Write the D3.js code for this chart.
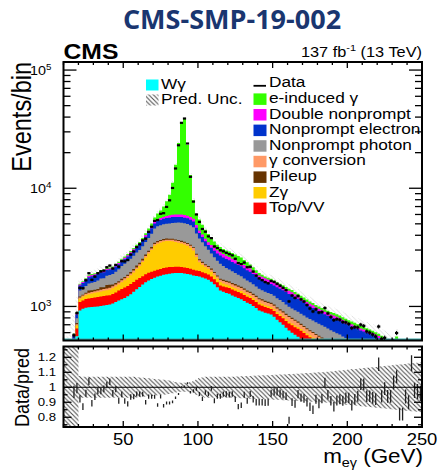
<!DOCTYPE html>
<html>
<head>
<meta charset="utf-8">
<script src="https://cdn.jsdelivr.net/npm/d3@7"></script>
<style>
  body { margin: 0; background: #fff; }
  svg { display: block; font-family: "Liberation Sans", Arial, Helvetica, sans-serif; }
</style>
</head>
<body>
<svg id="chart" width="438" height="470"></svg>
<script>
// ---- binning: m_eγ from 10 to 250 GeV in 2 GeV bins ----
const binLow = 10;
const binWidth = 2;
const nBins = 120;

// ---- expected events per bin, stacked bottom to top ----
const wgamma = [200,240,300,380,560,925,955,975,985,990,
  995,1000,1010,1020,1030,1040,1060,1090,1124,1150,
  1180,1220,1270,1330,1400,1460,1530,1600,1660,1710,
  1750,1790,1820,1850,1875,1893,1905,1915,1920,1915,
  1900,1880,1860,1830,1810,1795,1760,1720,1680,1620,
  1540,1450,1366,1330,1300,1281,1240,1210,1180,1150,
  1110,1075,1050,1010,970,925,905,885,870,855,
  820,770,736,700,660,626,600,575,555,530,
  505,480,460,440,420,405,390,375,360,345,
  335,325,315,300,290,280,270,260,250,240,
  232,224,216,208,200,192,185,178,171,165,
  160,155,150,146,142,138,135,132,130,128];
const topVV = [30,38,45,60,90,163,170,180,185,190,
  195,200,205,205,205,205,215,225,240,255,
  265,270,275,280,280,278,275,270,265,260,
  255,255,258,260,260,260,255,250,245,240,
  235,230,225,215,205,195,190,185,180,170,
  160,150,140,145,150,150,150,150,148,145,
  140,135,130,125,120,115,110,105,100,98,
  96,95,94,93,92,92,92,92,92,92,
  92,91,90,90,88,87,85,84,82,80,
  78,76,74,72,70,68,66,64,62,60,
  58,56,54,52,50,49,48,47,46,45,
  44,43,42,41,40,39,38,37,36,35];
const zgamma = [8,12,15,20,40,74,80,90,100,108,
  115,120,125,130,135,140,150,160,171,200,
  220,250,290,330,390,460,570,720,880,1030,
  1280,1350,1400,1430,1440,1422,1400,1350,1300,1250,
  1200,1150,1050,930,600,380,300,250,220,180,
  140,120,100,90,80,75,70,65,60,58,
  55,50,48,45,42,40,38,35,33,31,
  30,29,28,27,26,25,24,23,22,21,
  20,19,18,17,16,15,15,14,14,13,
  13,12,12,11,11,10,10,10,9,9,
  9,8,8,8,8,7,7,7,7,6,
  6,6,6,6,5,5,5,5,5,5];
const conversion = [4,6,8,10,18,28,30,33,36,40,
  42,44,46,48,50,52,55,58,60,62,
  64,66,68,70,70,72,75,80,85,90,
  92,94,95,95,95,95,98,100,105,110,
  115,120,130,140,120,90,85,80,78,76,
  75,74,73,75,78,80,80,80,80,78,
  76,74,72,70,70,68,68,67,66,66,
  66,66,67,68,70,70,68,65,60,55,
  52,50,50,50,50,48,46,44,42,40,
  38,36,34,32,30,28,26,24,22,20,
  19,18,17,16,15,14,13,12,11,10,
  10,9,9,8,8,7,7,6,6,6];
const pileup = [2,4,6,8,15,25,20,30,60,40,
  35,40,70,50,100,90,55,45,40,50,
  45,50,55,60,75,70,80,75,65,90,
  80,85,75,80,85,75,80,70,75,80,
  70,65,60,55,50,45,50,45,40,45,
  40,37,37,40,38,40,42,40,38,36,
  34,32,30,30,28,27,27,26,25,25,
  24,23,22,21,20,19,18,17,16,15,
  14,13,12,12,11,10,10,9,9,8,
  8,7,7,7,6,6,6,5,5,5,
  5,4,4,4,4,4,3,3,3,3,
  3,3,3,3,3,2,2,2,2,2];
const npPhoton = [15,22,30,45,70,146,160,180,200,220,
  230,250,265,280,300,320,350,390,430,480,
  520,550,580,610,640,670,700,760,840,950,
  1100,1200,1220,1240,1260,1275,1350,1420,1480,1520,
  1540,1550,1540,1500,1350,1250,1100,950,820,720,
  650,600,583,520,470,430,400,370,345,330,
  310,290,275,260,245,235,225,215,205,200,
  195,190,185,180,170,160,160,158,156,155,
  155,154,153,152,151,150,148,146,144,142,
  140,138,136,135,134,133,132,131,130,128,
  126,123,120,117,114,110,107,104,100,97,
  94,91,88,85,82,80,78,76,74,72];
const npElectron = [15,22,35,45,60,140,160,180,200,215,
  220,225,225,215,210,205,205,210,215,220,
  225,235,250,270,290,310,340,380,420,450,
  470,500,530,560,590,620,620,610,600,590,
  580,570,560,550,500,430,380,330,300,320,
  350,380,400,400,400,398,396,395,394,390,
  380,370,360,340,320,305,295,285,280,275,
  275,278,280,282,284,284,280,270,260,250,
  240,230,220,210,200,195,190,185,182,180,
  178,176,175,174,172,170,168,166,165,165,
  165,166,168,170,168,165,160,155,150,145,
  140,135,130,125,120,115,110,105,100,95];
const doubleNp = [4,6,10,12,20,34,36,38,40,42,
  40,42,44,45,45,45,48,52,56,62,
  68,75,82,90,98,105,115,130,145,160,
  170,180,190,200,230,260,270,280,285,290,
  290,290,290,290,260,200,190,185,180,180,
  180,180,180,175,170,160,155,150,145,145,
  140,135,130,125,120,115,112,110,108,106,
  100,95,90,85,82,80,75,70,65,60,
  58,55,52,50,48,46,45,45,46,48,
  50,48,45,40,35,30,28,26,25,24,
  23,22,21,20,20,20,19,19,18,18,
  18,70,18,17,16,16,15,15,14,14];
const eInduced = [2,4,6,8,12,20,25,28,30,35,
  35,38,40,40,40,40,42,45,50,55,
  60,65,70,75,80,88,105,140,200,300,
  450,650,900,1300,1930,2930,5170,9810,18180,29700,
  32740,17420,7210,2390,1170,1050,850,700,600,500,
  400,330,300,290,290,300,300,290,280,260,
  230,200,170,140,110,90,75,65,58,55,
  55,55,55,56,57,58,58,57,56,55,
  52,50,48,46,44,42,40,40,40,40,
  40,40,40,40,40,40,40,40,38,36,
  34,32,30,28,26,25,24,23,22,21,
  12,45,11,10,10,9,9,8,8,8];

// ---- observed events per bin (null: no entry) ----
const data = [null,null,null,570,880,1434,1425,1665,1909,1679,
  1787,1910,1979,2011,2147,2216,2093,2245,2169,2415,
  2406,2472,2749,2919,3174,3355,3619,3740,4273,4722,
  5291,5384,6079,6152,6950,7903,10055,14699,23101,35766,
  38902,23903,12498,7712,6004,5190,4522,4289,3914,3784,
  3217,3122,2988,2927,2842,2768,2706,2530,2326,2281,
  2351,2149,2163,1973,1823,1728,1670,1609,1571,1643,
  1611,1553,1495,1436,1373,1103,1238,1181,1224,1147,
  1099,1028,960,907,946,888,896,970,873,815,
  766,781,771,738,733,711,656,668,664,701,
  684,614,600,579,557,676,532,543,496,479,
  502,596,375,362,400,370,463,378,364,350];

// ---- relative uncertainty of the prediction per bin ----
const predUnc = [0.6,0.6,0.6,0.5,0.35,0.075,0.07,0.07,0.07,0.07,
  0.07,0.07,0.07,0.07,0.07,0.07,0.07,0.07,0.07,0.07,
  0.07,0.07,0.07,0.07,0.068,0.066,0.064,0.062,0.06,0.058,
  0.056,0.054,0.052,0.05,0.048,0.045,0.04,0.035,0.03,0.03,
  0.03,0.03,0.035,0.04,0.05,0.06,0.065,0.07,0.07,0.07,
  0.07,0.07,0.07,0.07,0.07,0.07,0.07,0.072,0.072,0.074,
  0.074,0.075,0.076,0.077,0.078,0.079,0.08,0.08,0.08,0.082,
  0.083,0.084,0.085,0.086,0.087,0.088,0.089,0.09,0.09,0.092,
  0.094,0.095,0.096,0.097,0.098,0.1,0.1,0.102,0.104,0.106,
  0.108,0.11,0.112,0.114,0.116,0.118,0.12,0.122,0.124,0.126,
  0.128,0.13,0.132,0.134,0.136,0.138,0.14,0.142,0.144,0.146,
  0.148,0.15,0.152,0.154,0.156,0.158,0.16,0.162,0.164,0.166];

// ---- axis tick values ----
const xMajorTicks = [50, 100, 150, 200, 250];
const yMainDecades = [1e3, 1e4, 1e5];
const yRatioTicks = [0.8, 0.9, 1.0, 1.1, 1.2];
const yRatioTickLabels = ["0.8", "0.9", "1", "1.1", "1.2"];

// stack order (bottom first)
const stack = [
  { key: "Wγ", vals: wgamma, color: "#00ffff" },
  { key: "Top/VV", vals: topVV, color: "#ff0000" },
  { key: "Zγ", vals: zgamma, color: "#ffcc00" },
  { key: "γ conversion", vals: conversion, color: "#ff9966" },
  { key: "Pileup", vals: pileup, color: "#663300" },
  { key: "Nonprompt photon", vals: npPhoton, color: "#999999" },
  { key: "Nonprompt electron", vals: npElectron, color: "#0033cc" },
  { key: "Double nonprompt", vals: doubleNp, color: "#ff00ff" },
  { key: "e-induced γ", vals: eInduced, color: "#33ff00" }
];
// right legend column, top to bottom
const legendOrder = ["Data", "e-induced γ", "Double nonprompt", "Nonprompt electron",
  "Nonprompt photon", "γ conversion", "Pileup", "Zγ", "Top/VV"];

// ---- geometry ----
const SX = 1.15;            // horizontal text stretch of the plot style
const X0 = 63.5, X1 = 422;
const MT = 62, MB = 340.5;  // main pad
const RT = 346.5, RB = 427; // ratio pad

const svg = d3.select("#chart");
const x = d3.scaleLinear().domain([10, 250]).range([X0, X1]);
const y = d3.scaleLog().domain([515, 117000]).range([MB, MT]);
const yr = d3.scaleLinear().domain([0.735, 1.272]).range([RB, RT]);

const edges = d3.range(nBins).map(i => binLow + i * binWidth);
const centers = edges.map(e => e + binWidth / 2);

// cumulative stack tops
const cumulative = [];
let running = new Array(nBins).fill(0);
stack.forEach(s => {
  running = running.map((v, i) => v + s.vals[i]);
  cumulative.push(running.slice());
});
const pred = running;

function stepPoints(lo, hi) {
  const pts = [];
  for (let i = 0; i < nBins; i++) {
    pts.push({ a: edges[i], lo: lo[i], hi: hi[i] });
    pts.push({ a: edges[i] + binWidth, lo: lo[i], hi: hi[i] });
  }
  return pts;
}

// ---- defs: clips and hatch ----
const defs = svg.append("defs");
defs.append("clipPath").attr("id", "clipMain")
  .append("rect").attr("x", X0).attr("y", MT).attr("width", X1 - X0).attr("height", MB - MT);
defs.append("clipPath").attr("id", "clipRatio")
  .append("rect").attr("x", X0).attr("y", RT).attr("width", X1 - X0).attr("height", RB - RT);
function hatchPattern(id, color, width) {
  const p = defs.append("pattern").attr("id", id)
    .attr("patternUnits", "userSpaceOnUse").attr("width", 4.5).attr("height", 4.5);
  p.append("path").attr("d", "M-1,-1 L5.5,5.5 M-1,3.5 L1,5.5 M3.5,-1 L5.5,1")
    .attr("stroke", color).attr("stroke-width", width).attr("fill", "none");
}
hatchPattern("hatch", "#4a4a4a", 1.05);
hatchPattern("hatchLight", "#777", 0.7);

// ---- text helper with the stretched plot font ----
function addText(parent, tx, ty, size, anchor, opts = {}) {
  const sx = opts.sx === undefined ? SX : opts.sx;
  const t = parent.append("text")
    .attr("transform", `translate(${tx},${ty}) scale(${sx},1)` + (opts.rot ? " rotate(-90)" : ""))
    .attr("font-size", size)
    .attr("text-anchor", anchor || "start")
    .attr("fill", opts.fill || "#000");
  if (opts.bold) t.attr("font-weight", "bold");
  if (opts.family) t.attr("font-family", opts.family);
  if (opts.text !== undefined) t.text(opts.text);
  return t;
}

// ---- main pad: stacked histogram ----
const gMain = svg.append("g").attr("clip-path", "url(#clipMain)");
const bottomVal = 1;
for (let k = stack.length - 1; k >= 0; k--) {
  const area = d3.area()
    .x(d => x(d.a))
    .y0(MB + 5)
    .y1(d => y(Math.max(d.hi, bottomVal)));
  gMain.append("path")
    .datum(stepPoints(cumulative[k], cumulative[k]))
    .attr("d", area)
    .attr("fill", stack[k].color);
}
// base line of the stack along the axis
gMain.append("line").attr("x1", X0).attr("x2", X1).attr("y1", MB - 1.2).attr("y2", MB - 1.2)
  .attr("stroke", "#3aa6a6").attr("stroke-width", 1.6);

// prediction uncertainty band
const uncArea = d3.area().x(d => x(d.a)).y0(d => y(Math.max(d.lo, bottomVal))).y1(d => y(Math.max(d.hi, bottomVal)));
gMain.append("path")
  .datum(stepPoints(pred.map((p, i) => p * (1 - predUnc[i])), pred.map((p, i) => p * (1 + predUnc[i]))))
  .attr("d", uncArea).attr("fill", "url(#hatchLight)").attr("opacity", 0.35);

// data points
const obs = centers.map((c, i) => ({ c, v: data[i], p: pred[i] })).filter(d => d.v !== null);
gMain.selectAll("line.err").data(obs).join("line").attr("class", "err")
  .attr("x1", d => x(d.c)).attr("x2", d => x(d.c))
  .attr("y1", d => y(d.v + Math.sqrt(d.v))).attr("y2", d => y(d.v - Math.sqrt(d.v)))
  .attr("stroke", "#000").attr("stroke-width", 1);
gMain.selectAll("rect.pt").data(obs).join("rect").attr("class", "pt")
  .attr("x", d => x(d.c) - 1.6).attr("y", d => y(d.v) - 1.1)
  .attr("width", 3.2).attr("height", 2.2).attr("fill", "#000");

// ---- ratio pad ----
const gRatio = svg.append("g").attr("clip-path", "url(#clipRatio)");
const ratioBand = d3.area().x(d => x(d.a)).y0(d => yr(d.lo)).y1(d => yr(d.hi));
gRatio.append("path")
  .datum(stepPoints(predUnc.map(u => 1 - u), predUnc.map(u => 1 + u)))
  .attr("d", ratioBand).attr("fill", "url(#hatch)");
gRatio.append("line").attr("x1", X0).attr("x2", X1).attr("y1", yr(1)).attr("y2", yr(1))
  .attr("stroke", "#000").attr("stroke-width", 1);
gRatio.selectAll("line.rerr").data(obs).join("line").attr("class", "rerr")
  .attr("x1", d => x(d.c)).attr("x2", d => x(d.c))
  .attr("y1", d => yr((d.v + Math.sqrt(d.v)) / d.p)).attr("y2", d => yr((d.v - Math.sqrt(d.v)) / d.p))
  .attr("stroke", "#222").attr("stroke-width", 1.3);

// ---- ticks ----
const gAx = svg.append("g").attr("stroke", "#000").attr("stroke-width", 1.3);
function tick(x1, y1, x2, y2) {
  gAx.append("line").attr("x1", x1).attr("y1", y1).attr("x2", x2).attr("y2", y2);
}
d3.range(10, 251, 10).forEach(v => {
  const major = xMajorTicks.includes(v);
  const xx = x(v);
  const lm = major ? 6 : 3;
  tick(xx, MB, xx, MB - lm); tick(xx, MT, xx, MT + lm);
  tick(xx, RB, xx, RB - lm); tick(xx, RT, xx, RT + lm);
});
for (let n = 2; n <= 5; n++) {
  for (let k = 1; k <= 9; k++) {
    const v = k * Math.pow(10, n);
    if (v < y.domain()[0] || v > y.domain()[1]) continue;
    const L = k === 1 ? 13 : 7;
    tick(X0, y(v), X0 + L, y(v)); tick(X1, y(v), X1 - L, y(v));
  }
}
d3.range(0.75, 1.2701, 0.05).forEach(v => {
  const major = yRatioTicks.some(t => Math.abs(t - v) < 1e-6);
  const L = major ? 8 : 4;
  tick(X0, yr(v), X0 + L, yr(v)); tick(X1, yr(v), X1 - L, yr(v));
});

// frames
svg.append("rect").attr("x", X0).attr("y", MT).attr("width", X1 - X0).attr("height", MB - MT)
  .attr("fill", "none").attr("stroke", "#000").attr("stroke-width", 2);
svg.append("rect").attr("x", X0).attr("y", RT).attr("width", X1 - X0).attr("height", RB - RT)
  .attr("fill", "none").attr("stroke", "#000").attr("stroke-width", 2);

// ---- tick labels ----
const gLab = svg.append("g");
xMajorTicks.forEach(v => addText(gLab, x(v), 445, 16, "middle", { text: String(v) }));
yRatioTicks.forEach((v, i) => addText(gLab, 56, yr(v) + 4, 11.5, "end", { text: yRatioTickLabels[i] }));
yMainDecades.forEach(v => {
  const t = addText(gLab, 51.5, y(v) + 5, 12.5, "end");
  t.append("tspan").text("10");
  t.append("tspan").attr("font-size", 8.5).attr("dy", -5.5).text(String(Math.round(Math.log10(v))));
});

// ---- axis titles ----
addText(gLab, 31, MT, 23.5, "end", { rot: true, text: "Events/bin" });
addText(gLab, 29, 348, 18, "end", { rot: true, text: "Data/pred" });
const xt = addText(gLab, 423, 463, 19.5, "end");
xt.append("tspan").text("m");
xt.append("tspan").attr("font-size", 12.5).attr("dy", 4).text("eγ");
xt.append("tspan").attr("dy", -4).text(" (GeV)");

// ---- header ----
addText(svg, 232, 28.5, 26.5, "middle", { sx: 1.02, bold: true, family: "'Open Sans', sans-serif", fill: "#1a3670", text: "CMS-SMP-19-002" });
addText(svg, 63.5, 58.5, 21.5, "start", { bold: true, text: "CMS" });
const lumi = addText(svg, 422, 57, 14.2, "end");
lumi.append("tspan").text("137 fb");
lumi.append("tspan").attr("font-size", 9.5).attr("dy", -6).text("-1");
lumi.append("tspan").attr("dy", 6).text(" (13 TeV)");

// ---- legend ----
const gLeg = svg.append("g");
const legFont = 15;
// left column
gLeg.append("rect").attr("x", 146).attr("y", 79.5).attr("width", 12.5).attr("height", 11).attr("fill", "#00ffff");
addText(gLeg, 161, 88.5, legFont, "start", { text: "Wγ" });
gLeg.append("rect").attr("x", 146).attr("y", 94.5).attr("width", 12.5).attr("height", 11).attr("fill", "url(#hatch)");
addText(gLeg, 161, 103.8, legFont, "start", { text: "Pred. Unc." });
// right column
legendOrder.forEach((name, i) => {
  const base = 87.3 + i * 15.6;
  if (name === "Data") {
    gLeg.append("line").attr("x1", 253.5).attr("x2", 266).attr("y1", base - 1.5).attr("y2", base - 1.5)
      .attr("stroke", "#000").attr("stroke-width", 1.8);
  } else {
    const s = stack.find(d => d.key === name);
    gLeg.append("rect").attr("x", 253.5).attr("y", base - 9.5).attr("width", 13).attr("height", 11.5).attr("fill", s.color);
  }
  addText(gLeg, 269, base, legFont, "start", { text: name });
});
</script>
</body>
</html>
